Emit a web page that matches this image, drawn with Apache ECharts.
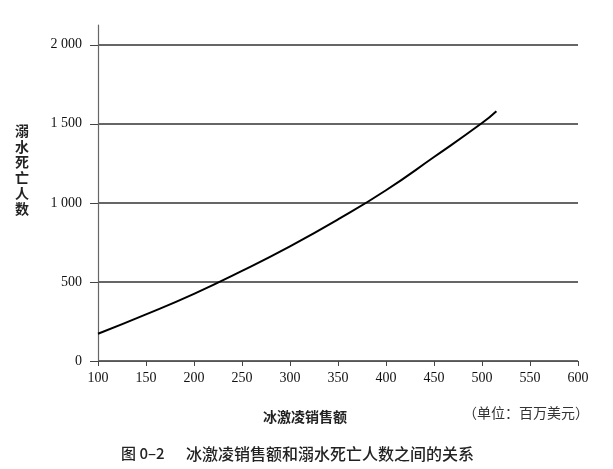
<!DOCTYPE html>
<html><head><meta charset="utf-8">
<script src="https://cdn.jsdelivr.net/npm/echarts@6/dist/echarts.min.js"></script>
<style>html,body{margin:0;padding:0;background:#fff}#c{width:613px;height:469px}</style>
</head><body><div id="c"></div>
<script>
const sales = [100, 150, 200, 250, 300, 350, 400, 450, 500, 515];
const deaths = [172, 295, 425, 570, 725, 895, 1080, 1290, 1505, 1580];
const yTicks = [0, 500, 1000, 1500, 2000];
const xTicks = [100, 150, 200, 250, 300, 350, 400, 450, 500, 550, 600];
const yName = '溺水死亡人数';
const xName = '冰激凌销售额';
const unitText = '（单位：百万美元）';
const figNo = '图 0–2';
const caption = '冰激凌销售额和溺水死亡人数之间的关系';

const serif = '"Liberation Serif","DejaVu Serif",serif';
const cjk = '"Noto Sans CJK SC","Noto Sans",sans-serif';
function fmt(v){ return v >= 1000 ? Math.floor(v/1000) + ' ' + String(v%1000).padStart(3,'0') : String(v); }

const chart = echarts.init(document.getElementById('c'), null, {renderer:'canvas'});
chart.setOption({
  animation: false,
  backgroundColor: '#fff',
  grid: {left: 98, right: 35, top: 25, bottom: 108, containLabel: false},
  title: [
    {text: yName.split('').join('\n'), left: 10, top: 118, textStyle: {fontFamily: cjk, fontSize: 14, fontWeight: 'bold', color: '#222', lineHeight: 15.5}},
    {text: xName, left: 258, top: 405, textStyle: {fontFamily: cjk, fontSize: 14, fontWeight: 'bold', color: '#222'}},
    {text: unitText, left: 458, top: 401, textStyle: {fontFamily: cjk, fontSize: 14, fontWeight: 'normal', color: '#333'}},
    {text: figNo, left: 116, top: 441, textStyle: {fontFamily: cjk, fontSize: 15, fontWeight: 500, color: '#222'}},
    {text: caption, left: 181, top: 441, textStyle: {fontFamily: cjk, fontSize: 16, fontWeight: 500, color: '#222'}}
  ],
  xAxis: {
    type: 'value', min: 100, max: 600, interval: 50,
    axisLine: {show: true, lineStyle: {color: '#555', width: 1.2}},
    axisTick: {show: true, length: 5, lineStyle: {color: '#444'}, customValues: xTicks},
    axisLabel: {color: '#111', fontFamily: serif, fontSize: 14, margin: 10, customValues: xTicks},
    splitLine: {show: false}
  },
  yAxis: {
    type: 'value', min: 0, max: 2125, interval: 500,
    axisLine: {show: true, lineStyle: {color: '#666', width: 1.2}},
    axisTick: {show: true, length: 8, lineStyle: {color: '#444'}, customValues: yTicks},
    axisLabel: {color: '#111', fontFamily: serif, fontSize: 14, margin: 16, formatter: fmt, customValues: yTicks},
    splitLine: {show: true, lineStyle: {color: ['#333','#333','#333','#333','#333','rgba(0,0,0,0)'], width: 1.5}}
  },
  series: [{
    type: 'line',
    data: sales.map((x, i) => [x, deaths[i]]),
    smooth: true,
    showSymbol: false,
    lineStyle: {color: '#000', width: 2}
  }]
});
</script></body></html>
